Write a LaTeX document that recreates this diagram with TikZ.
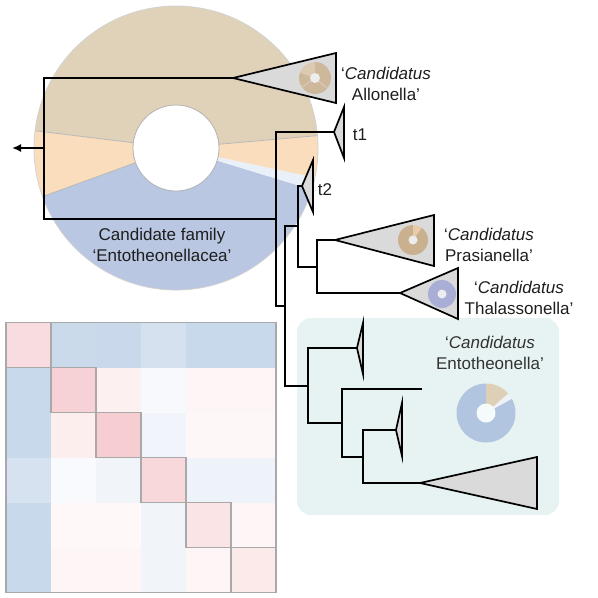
\documentclass[tikz,border=0pt]{standalone}
\usepackage{fontspec}
\setmainfont{Liberation Sans}
\usetikzlibrary{arrows.meta}
\definecolor{tanbig}{HTML}{DFD2B9}
\definecolor{peachbig}{HTML}{FADDBC}
\definecolor{bluebig}{HTML}{B9C7E2}
\definecolor{whitebig}{HTML}{E9F0F8}
\definecolor{cladegray}{HTML}{DADADA}
\definecolor{txt}{HTML}{1E1E1E}
\definecolor{txtb}{HTML}{333333}
\definecolor{hmgray}{HTML}{A9A9A9}
\definecolor{boxteal}{HTML}{E6F3F2}
\definecolor{allotan}{HTML}{CDB89C}
\definecolor{allolight}{HTML}{DCCAB0}
\definecolor{prastan}{HTML}{C9B190}
\definecolor{prasp}{HTML}{E8CBA8}
\definecolor{thal}{HTML}{A8AED6}
\definecolor{entblue}{HTML}{B2C5E0}
\definecolor{enttan}{HTML}{DDD0B6}
\definecolor{entwhite}{HTML}{EEF2F6}
\definecolor{holegray}{HTML}{EDEDED}
\newcommand{\pieslice}[5]{\fill[#5] (#1) -- ++(-#3:#2) arc[start angle=-#3, end angle=-#4, radius=#2] -- cycle;}
\newcommand{\hcell}[3]{\definecolor{hc}{HTML}{#3}\fill[hc] (6+45*#1,322.5+45*#2) rectangle ++(45.3,45.3);}
\begin{document}
\begin{tikzpicture}[x=1pt,y=-1pt,
  branch/.style={line width=1.9pt, draw=black, line join=miter},
  clade/.style={fill=cladegray, draw=black, line width=1.7pt, line join=miter},
  lbl/.style={font=\fontsize{17}{20.5}\selectfont, text=txt, align=center, inner sep=0pt},
  hmline/.style={draw=hmgray, line width=1.6pt},
  divider/.style={draw=gray!55, line width=0.8pt}]
\useasboundingbox (0,0) rectangle (598,598);
% ---- big donut
\coordinate (C) at (176,148);
\pieslice{C}{142}{5}{173}{tanbig}
\pieslice{C}{142}{173}{200}{peachbig}
\pieslice{C}{142}{200}{343}{bluebig}
\pieslice{C}{142}{343}{348}{whitebig}
\pieslice{C}{142}{348}{365}{peachbig}
\draw[divider] (C) ++(-5:43) -- ++(-5:99);
\draw[divider] (C) ++(-173:43) -- ++(-173:99);
\draw[divider] (C) ++(-200:43) -- ++(-200:99);
\draw[gray!35, line width=0.8pt] (C) circle[radius=142];
\filldraw[fill=white, draw=gray!60, line width=0.8pt] (C) circle[radius=43];
% ---- heatmap
\hcell{0}{0}{F9DCDF}\hcell{1}{0}{CBDAEB}\hcell{2}{0}{C9D8EA}\hcell{3}{0}{D6E1EF}\hcell{4}{0}{C9D9EC}\hcell{5}{0}{C9D9EC}
\hcell{0}{1}{C9D9EC}\hcell{1}{1}{F6D2D7}\hcell{2}{1}{FDF0F0}\hcell{3}{1}{F7F9FC}\hcell{4}{1}{FEF6F6}\hcell{5}{1}{FEF6F6}
\hcell{0}{2}{C9D9EC}\hcell{1}{2}{FDEEEE}\hcell{2}{2}{F6CDD1}\hcell{3}{2}{F1F5FB}\hcell{4}{2}{FEF7F7}\hcell{5}{2}{FEF7F7}
\hcell{0}{3}{D6E2F0}\hcell{1}{3}{F8FAFD}\hcell{2}{3}{F1F5FA}\hcell{3}{3}{F8D8DB}\hcell{4}{3}{EEF3FA}\hcell{5}{3}{EEF3FA}
\hcell{0}{4}{C9D9EC}\hcell{1}{4}{FEF8F8}\hcell{2}{4}{FEF8F8}\hcell{3}{4}{F1F5FA}\hcell{4}{4}{FBE4E6}\hcell{5}{4}{FEF6F6}
\hcell{0}{5}{C9D9EC}\hcell{1}{5}{FEF6F6}\hcell{2}{5}{FEF6F6}\hcell{3}{5}{F1F5FA}\hcell{4}{5}{FEF6F6}\hcell{5}{5}{FCEAEA}
\foreach \i in {0,...,5} \draw[hmline] (6+45*\i,322.5+45*\i) rectangle ++(45,45);
\draw[hmline] (6,322.5) rectangle (276,592.5);
% ---- Entotheonella box
\fill[boxteal, rounded corners=14pt] (297,318) rectangle (559,515);
% ---- tree coordinates
\coordinate (root) at (44,148);
\coordinate (out) at (12,148);
\coordinate (alloA) at (233,78);
\coordinate (n1m) at (276,219);
\coordinate (t1A) at (334,132);
\coordinate (n2m) at (285,306);
\coordinate (n3m) at (298,226);
\coordinate (t2A) at (302,186);
\coordinate (n4m) at (317,267);
\coordinate (prasA) at (335,240);
\coordinate (thalA) at (400,293);
\coordinate (n5m) at (308,386);
\coordinate (e1A) at (357,348);
\coordinate (n6m) at (342,423);
\coordinate (leaf) at (422,389);
\coordinate (n7m) at (363,457);
\coordinate (e2A) at (396,430);
\coordinate (e3A) at (420,483);
% ---- branches
\draw[branch] (alloA) -| (root) |- (n1m);
\draw[branch] (t1A) -| (n1m) |- (n2m);
\draw[branch] (n3m) -| (n2m) |- (n5m);
\draw[branch] (t2A) -| (n3m) |- (n4m);
\draw[branch] (prasA) -| (n4m) |- (thalA);
\draw[branch] (e1A) -| (n5m) |- (n6m);
\draw[branch] (leaf) -| (n6m) |- (n7m);
\draw[branch] (e2A) -| (n7m) |- (e3A);
\draw[branch, line width=1.7pt, -{Latex[length=9pt,width=8pt]}] (root) -- (out);
% ---- collapsed clades
\filldraw[clade] (alloA) -- (336,53) -- (336,103) -- cycle;
\filldraw[clade] (t1A) -- (344,107) -- (344,158) -- cycle;
\filldraw[clade] (t2A) -- (313,160) -- (313,212) -- cycle;
\filldraw[clade] (prasA) -- (434,215) -- (434,266) -- cycle;
\filldraw[clade] (thalA) -- (458,268) -- (458,319) -- cycle;
\filldraw[clade] (e1A) -- (363,323) -- (363,374) -- cycle;
\filldraw[clade] (e2A) -- (402,403) -- (402,456) -- cycle;
\filldraw[clade] (e3A) -- (537,457) -- (537,509) -- cycle;
% ---- small donuts
\coordinate (dA) at (315,78);
\pieslice{dA}{16}{160}{450}{allotan}
\pieslice{dA}{16}{90}{160}{allolight}
\draw[draw=allolight!70!white, line width=0.5pt] (dA) -- ++(-215:16) (dA) -- ++(-320:16);
\fill[holegray] (dA) circle[radius=5];
\coordinate (dP) at (413,240);
\pieslice{dP}{15}{90}{415}{prastan}
\pieslice{dP}{15}{55}{90}{prasp}
\fill[holegray] (dP) circle[radius=4.5];
\coordinate (dT) at (442,294);
\fill[thal] (dT) circle[radius=14];
\fill[holegray] (dT) circle[radius=4.5];
\coordinate (dE) at (486,413);
\pieslice{dE}{29.5}{90}{389}{entblue}
\pieslice{dE}{29.5}{41}{90}{enttan}
\pieslice{dE}{29.5}{29}{41}{entwhite}
\fill[white!60!boxteal] (dE) circle[radius=9.5];
% ---- labels
\node[lbl] (allo) at (386,84) {‘\textit{Candidatus}\\Allonella’};
\node[lbl] (t1) at (360,135) {t1};
\node[lbl] (t2) at (325,190) {t2};
\node[lbl] (pras) at (489,245) {‘\textit{Candidatus}\\Prasianella’};
\node[lbl] (thal) at (519,298) {‘\textit{Candidatus}\\Thalassonella’};
\node[lbl, text=txtb] (ento) at (490,353) {‘\textit{Candidatus}\\Entotheonella’};
\node[lbl] (fam) at (162,245) {Candidate family\\‘Entotheonellacea’};
\end{tikzpicture}
\end{document}
